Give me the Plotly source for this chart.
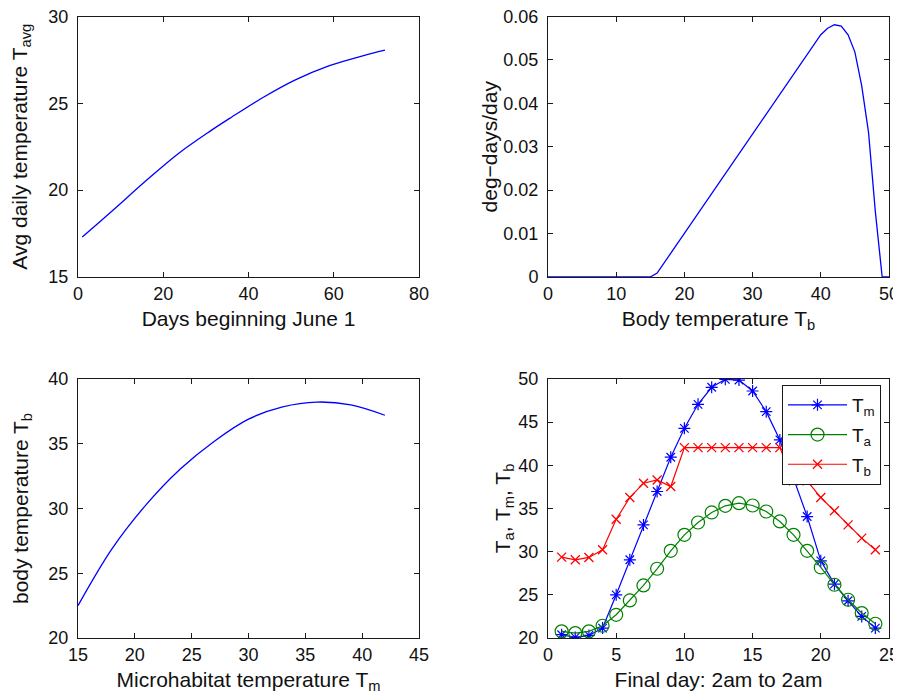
import plotly.graph_objects as go

# ---- Panel 1: average daily temperature vs day ----
days = [1, 8, 16, 23.5, 31, 36, 43.5, 51, 59, 67, 72]
t_avg = [17.3, 18.8, 20.55, 22.1, 23.4, 24.2, 25.35, 26.35, 27.17, 27.75, 28.06]

# ---- Panel 2: development rate vs body temperature ----
body_temp = [0, 5, 10, 15, 16, 17, 18, 20, 25, 30, 35, 38, 39, 40, 41, 42,
             43, 44, 45, 46, 47, 48, 49, 50]
deg_days = [0, 0, 0, 0, 0.0009, 0.0032, 0.0055, 0.0101, 0.0216, 0.0331,
            0.0446, 0.0514, 0.0537, 0.0558, 0.0573, 0.0581, 0.0578, 0.0558,
            0.0518, 0.0440, 0.0333, 0.0150, 0.0, 0.0]

# ---- Panel 3: body temperature vs microhabitat temperature ----
micro_temp = [15, 18, 21, 24, 27, 30, 33, 36, 39, 42]
body_from_micro = [22.5, 26.9, 30.3, 33.05, 35.2, 36.9, 37.85, 38.22, 38.0, 37.2]

# ---- Panel 4: hourly temperatures on final day ----
hours = list(range(1, 25))
T_m = [20.38, 20.07, 20.3, 21.15, 25.0, 29.06, 33.1, 36.97, 40.94, 44.29,
       47.07, 49.04, 49.96, 49.88, 48.61, 46.22, 42.94, 38.5, 34.07, 28.94,
       26.24, 24.31, 22.5, 21.15]
T_a = [20.77, 20.57, 20.77, 21.42, 22.69, 24.35, 26.09, 28.02, 30.1, 31.95,
       33.38, 34.54, 35.31, 35.62, 35.35, 34.65, 33.5, 31.95, 30.1, 28.17,
       26.17, 24.43, 22.89, 21.65]
T_b = [29.37, 29.06, 29.33, 30.22, 33.76, 36.27, 37.93, 38.31, 37.54, 42.05,
       42.05, 42.05, 42.05, 42.05, 42.05, 42.05, 42.05, 38.2, 38.2, 36.27,
       34.73, 33.1, 31.57, 30.22]

BLUE = "#0000ff"
GREEN = "#008000"
RED = "#ff0000"
FONT = "Liberation Sans, Arial, Helvetica, sans-serif"
AX = "#1a1a1a"

fig = go.Figure()

fig.add_trace(go.Scatter(x=days, y=t_avg, mode="lines", line=dict(color=BLUE, width=1.3, shape="spline"),
                         xaxis="x", yaxis="y", showlegend=False))
fig.add_trace(go.Scatter(x=body_temp, y=deg_days, mode="lines", line=dict(color=BLUE, width=1.3),
                         xaxis="x2", yaxis="y2", showlegend=False))
fig.add_trace(go.Scatter(x=micro_temp, y=body_from_micro, mode="lines",
                         line=dict(color=BLUE, width=1.3, shape="spline"),
                         xaxis="x3", yaxis="y3", showlegend=False))
fig.add_trace(go.Scatter(x=hours, y=T_m, mode="lines+markers", name="T<sub>m</sub>",
                         line=dict(color=BLUE, width=1.2),
                         marker=dict(symbol="asterisk-open", size=10, color=BLUE, line=dict(width=1.2, color=BLUE)),
                         xaxis="x4", yaxis="y4", legendgroup="a"))
fig.add_trace(go.Scatter(x=hours, y=T_a, mode="lines+markers", name="T<sub>a</sub>",
                         line=dict(color=GREEN, width=1.2),
                         marker=dict(symbol="circle-open", size=13, color=GREEN, line=dict(width=1.2, color=GREEN)),
                         xaxis="x4", yaxis="y4", legendgroup="b"))
fig.add_trace(go.Scatter(x=hours, y=T_b, mode="lines+markers", name="T<sub>b</sub>",
                         line=dict(color=RED, width=1.2),
                         marker=dict(symbol="x-thin-open", size=9, color=RED, line=dict(width=1.3, color=RED)),
                         xaxis="x4", yaxis="y4", legendgroup="c"))

W, H = 901, 696
OFF = 8  # the page body margin shifts the figure by this many pixels
xl = [(78 - OFF) / W, (419 - OFF) / W]
xr = [(548 - OFF) / W, (889 - OFF) / W]
yt = [1 - (277 - OFF) / H, 1 - (16.5 - OFF) / H]
yb = [1 - (638 - OFF) / H, 1 - (379 - OFF) / H]

def ax(domain, rng, dtick, title, anchor, standoff, is_y):
    return dict(domain=domain, range=rng, dtick=dtick, tick0=rng[0], showgrid=False, zeroline=False,
                showline=True, linecolor=AX, linewidth=1, mirror="ticks", ticks="inside", ticklen=5,
                tickcolor=AX, tickwidth=1, anchor=anchor, automargin=False,
                ticklabelstandoff=5 if is_y else 0, ticklabeloverflow="allow",
                tickfont=dict(family=FONT, size=18, color="#111"),
                title=dict(text=title, font=dict(family=FONT, size=21, color="#111"), standoff=standoff))

fig.update_layout(
    template="none",
    width=W, height=H, paper_bgcolor="white", plot_bgcolor="white",
    margin=dict(l=0, r=0, t=0, b=0, pad=0),
    font=dict(family=FONT, color="#111"),
    xaxis=ax(xl, [0, 80], 20, "Days beginning June 1", "y", 8, False),
    yaxis=ax(yt, [15, 30], 5, "Avg daily temperature T<sub>avg</sub>", "x", 16, True),
    xaxis2=ax(xr, [0, 50], 10, "Body temperature T<sub>b</sub>", "y2", 8, False),
    yaxis2=ax(yt, [0, 0.06], 0.01, "deg−days/day", "x2", 0, True),
    xaxis3=ax(xl, [15, 45], 5, "Microhabitat temperature T<sub>m</sub>", "y3", 8, False),
    yaxis3=ax(yb, [20, 40], 5, "body temperature T<sub>b</sub>", "x3", 14, True),
    xaxis4=ax(xr, [0, 25], 5, "Final day: 2am to 2am", "y4", 8, False),
    yaxis4=ax(yb, [20, 50], 5, "T<sub>a</sub>, T<sub>m</sub>, T<sub>b</sub>", "x4", 2, True),
    legend=dict(x=(782 - OFF) / W, y=1 - (385 - OFF) / H, xanchor="left", yanchor="top",
                bgcolor="white", bordercolor=AX, borderwidth=1,
                font=dict(family=FONT, size=19, color="#111"),
                tracegroupgap=2, itemwidth=59),
)

fig.write_html("out.html")
